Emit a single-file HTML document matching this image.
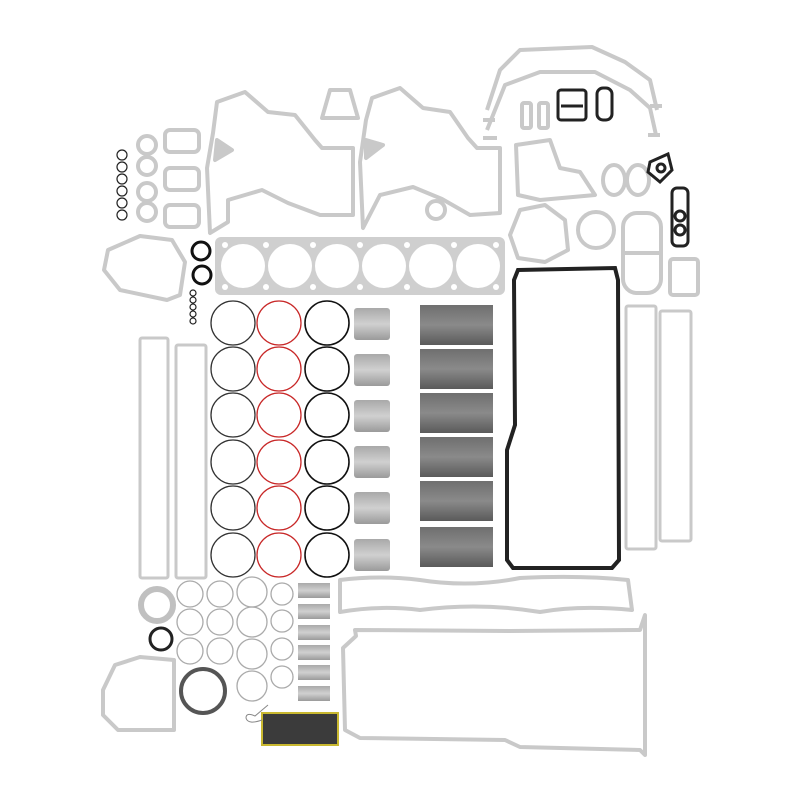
<!DOCTYPE html>
<html><head><meta charset="utf-8"><style>html,body{margin:0;padding:0;background:#fff}svg{display:block}</style></head>
<body>
<svg width="800" height="800" viewBox="0 0 800 800" xmlns="http://www.w3.org/2000/svg">
<defs>
<linearGradient id="lg" x1="0" y1="0" x2="0" y2="1"><stop offset="0" stop-color="#6f6f6f"/><stop offset="0.5" stop-color="#8a8a8a"/><stop offset="1" stop-color="#5a5a5a"/></linearGradient>
<linearGradient id="sg" x1="0" y1="0" x2="0" y2="1"><stop offset="0" stop-color="#a9a9a9"/><stop offset="0.5" stop-color="#d0d0d0"/><stop offset="1" stop-color="#9a9a9a"/></linearGradient>
</defs>
<g fill="none" stroke="#c9c9c9" stroke-width="4" stroke-linejoin="round">
<!-- top left small gaskets -->
<circle cx="147" cy="145" r="9"/><circle cx="147" cy="166" r="9"/>
<circle cx="147" cy="192" r="9"/><circle cx="147" cy="212" r="9"/>
<rect x="165" y="130" width="34" height="22" rx="5"/>
<rect x="165" y="168" width="34" height="22" rx="5"/>
<rect x="165" y="205" width="34" height="22" rx="5"/>
<!-- timing cover 1 -->
<path d="M217 102 L245 92 L268 112 L295 115 L315 140 L322 148 L353 148 L353 215 L320 215 L288 203 L262 190 L228 200 L228 222 L210 233 L207 168 L213 133 Z"/>
<path d="M217 140 L232 150 L215 160 Z" fill="#c9c9c9"/>
<!-- small top gasket -->
<path d="M322 118 L330 90 L350 90 L358 118 Z"/>
<!-- timing cover 2 -->
<path d="M372 98 L400 88 L423 108 L450 112 L468 138 L477 148 L500 148 L500 213 L470 215 L442 199 L413 187 L380 195 L363 228 L360 162 L366 120 Z"/>
<path d="M366 140 L383 145 L366 158 Z" fill="#c9c9c9"/>
<circle cx="436" cy="210" r="9"/>
<!-- top right arches -->
<path d="M487 110 L500 70 L520 50 L592 47 L625 62 L650 80 L657 110 M487 130 L505 85 L540 72 L595 72 L630 90 L650 108 L656 135"/>
<path d="M483 120 h12 M650 106 h12 M483 138 h14 M648 135 h12"/>
<rect x="522" y="103" width="9" height="25" rx="2"/><rect x="539" y="103" width="9" height="25" rx="2"/>
<!-- mid right gaskets -->
<path d="M516 145 L550 140 L560 168 L580 172 L595 195 L540 200 L518 195 Z"/>
<ellipse cx="614" cy="180" rx="11" ry="15"/><ellipse cx="638" cy="180" rx="11" ry="15"/>
<path d="M520 210 L545 205 L565 220 L568 250 L545 262 L518 258 L510 235 Z"/>
<circle cx="596" cy="230" r="18"/>
<rect x="623" y="213" width="38" height="80" rx="14"/><path d="M623 253 h38"/>
<rect x="670" y="259" width="28" height="36" rx="3"/>
<!-- left cover -->
<path d="M108 250 L140 236 L172 240 L185 262 L180 295 L167 300 L120 290 L104 270 Z"/>
<!-- side strips -->
<rect x="140" y="338" width="28" height="240" rx="2" stroke-width="3"/>
<rect x="176" y="345" width="30" height="233" rx="2" stroke-width="3"/>
<rect x="626" y="306" width="30" height="243" rx="2" stroke-width="3"/>
<rect x="660" y="311" width="31" height="230" rx="2" stroke-width="3"/>
<!-- bottom left cover -->
<path d="M103 690 L115 665 L140 657 L174 660 L174 730 L118 730 L103 715 Z"/>
<!-- valve cover gasket -->
<path d="M340 580 Q380 575 420 580 Q470 588 520 578 Q580 575 628 580 L632 610 Q580 605 540 612 Q480 602 420 610 Q380 605 340 612 Z"/>
<!-- oil pan gasket -->
<path d="M356 636 L355 630 L510 631 L640 630 L645 615 L645 755 L640 750 L520 747 L505 740 L360 738 L345 730 L343 648 Z"/>
</g>
<!-- head gasket -->
<rect x="215" y="237" width="290" height="58" rx="6" fill="#cfcfcf"/>
<g fill="#fff">
<circle cx="243" cy="266" r="22"/><circle cx="290" cy="266" r="22"/><circle cx="337" cy="266" r="22"/><circle cx="384" cy="266" r="22"/><circle cx="431" cy="266" r="22"/><circle cx="478" cy="266" r="22"/>
<circle cx="225" cy="245" r="3"/><circle cx="266" cy="245" r="3"/><circle cx="313" cy="245" r="3"/><circle cx="360" cy="245" r="3"/><circle cx="407" cy="245" r="3"/><circle cx="454" cy="245" r="3"/><circle cx="496" cy="245" r="3"/>
<circle cx="225" cy="287" r="3"/><circle cx="266" cy="287" r="3"/><circle cx="313" cy="287" r="3"/><circle cx="360" cy="287" r="3"/><circle cx="407" cy="287" r="3"/><circle cx="454" cy="287" r="3"/><circle cx="496" cy="287" r="3"/>
</g>
<!-- O-ring columns -->
<g fill="none" stroke-width="1.3">
<g stroke="#333">
<circle cx="233" cy="323" r="22"/><circle cx="233" cy="369" r="22"/><circle cx="233" cy="415" r="22"/><circle cx="233" cy="462" r="22"/><circle cx="233" cy="508" r="22"/><circle cx="233" cy="555" r="22"/>
</g>
<g stroke="#c82828">
<circle cx="279" cy="323" r="22"/><circle cx="279" cy="369" r="22"/><circle cx="279" cy="415" r="22"/><circle cx="279" cy="462" r="22"/><circle cx="279" cy="508" r="22"/><circle cx="279" cy="555" r="22"/>
</g>
<g stroke="#111" stroke-width="1.6">
<circle cx="327" cy="323" r="22"/><circle cx="327" cy="369" r="22"/><circle cx="327" cy="415" r="22"/><circle cx="327" cy="462" r="22"/><circle cx="327" cy="508" r="22"/><circle cx="327" cy="555" r="22"/>
</g>
<g stroke="#222" stroke-width="1.2">
<circle cx="122" cy="155" r="5"/><circle cx="122" cy="167" r="5"/><circle cx="122" cy="179" r="5"/><circle cx="122" cy="191" r="5"/><circle cx="122" cy="203" r="5"/><circle cx="122" cy="215" r="5"/>
<circle cx="193" cy="293" r="3"/><circle cx="193" cy="300" r="3"/><circle cx="193" cy="307" r="3"/><circle cx="193" cy="314" r="3"/><circle cx="193" cy="321" r="3"/>
</g>
<g stroke="#aaa">
<circle cx="190" cy="594" r="13"/><circle cx="220" cy="594" r="13"/><circle cx="252" cy="592" r="15"/><circle cx="282" cy="594" r="11"/>
<circle cx="190" cy="622" r="13"/><circle cx="220" cy="622" r="13"/><circle cx="252" cy="622" r="15"/><circle cx="282" cy="621" r="11"/>
<circle cx="190" cy="651" r="13"/><circle cx="220" cy="651" r="13"/><circle cx="252" cy="654" r="15"/><circle cx="282" cy="649" r="11"/>
<circle cx="252" cy="686" r="15"/><circle cx="282" cy="677" r="11"/>
</g>
<circle cx="201" cy="251" r="9" stroke="#111" stroke-width="3"/>
<circle cx="202" cy="275" r="9" stroke="#111" stroke-width="3"/>
<circle cx="157" cy="605" r="16" stroke="#c0c0c0" stroke-width="6"/>
<circle cx="161" cy="639" r="11" stroke="#222" stroke-width="3"/>
<circle cx="203" cy="691" r="22" stroke="#555" stroke-width="4"/>
</g>
<!-- small liners -->
<g fill="url(#sg)">
<rect x="354" y="308" width="36" height="32" rx="3"/><rect x="354" y="354" width="36" height="32" rx="3"/><rect x="354" y="400" width="36" height="32" rx="3"/><rect x="354" y="446" width="36" height="32" rx="3"/><rect x="354" y="492" width="36" height="32" rx="3"/><rect x="354" y="539" width="36" height="32" rx="3"/>
<rect x="298" y="583" width="32" height="15"/><rect x="298" y="604" width="32" height="15"/><rect x="298" y="625" width="32" height="15"/><rect x="298" y="645" width="32" height="15"/><rect x="298" y="665" width="32" height="15"/><rect x="298" y="686" width="32" height="15"/>
</g>
<!-- large liners -->
<g fill="url(#lg)">
<rect x="420" y="305" width="73" height="40"/><rect x="420" y="349" width="73" height="40"/><rect x="420" y="393" width="73" height="40"/><rect x="420" y="437" width="73" height="40"/><rect x="420" y="481" width="73" height="40"/><rect x="420" y="527" width="73" height="40"/>
</g>
<!-- black oil pan gasket -->
<path d="M518 270 L615 268 L618 280 L619 560 L612 568 L513 568 L507 560 L507 450 L515 425 L514 280 Z" fill="none" stroke="#222" stroke-width="4"/>
<!-- black small top-right gaskets -->
<g fill="none" stroke="#222" stroke-width="3">
<rect x="558" y="90" width="28" height="30" rx="3"/><path d="M561 106 h22"/>
<rect x="597" y="88" width="15" height="32" rx="6"/>
<path d="M650 162 L668 154 L672 170 L660 182 L648 172 Z"/><circle cx="661" cy="168" r="4"/>
<rect x="672" y="188" width="16" height="58" rx="5"/><circle cx="680" cy="216" r="5"/><circle cx="680" cy="230" r="5"/>
</g>
<!-- tag -->
<rect x="262" y="713" width="76" height="32" fill="#3b3b3b" stroke="#c9b830" stroke-width="2"/>
<path d="M262 720 Q248 725 246 718 Q246 712 255 716 L268 705" fill="none" stroke="#888" stroke-width="1"/>
</svg>
</body></html>
